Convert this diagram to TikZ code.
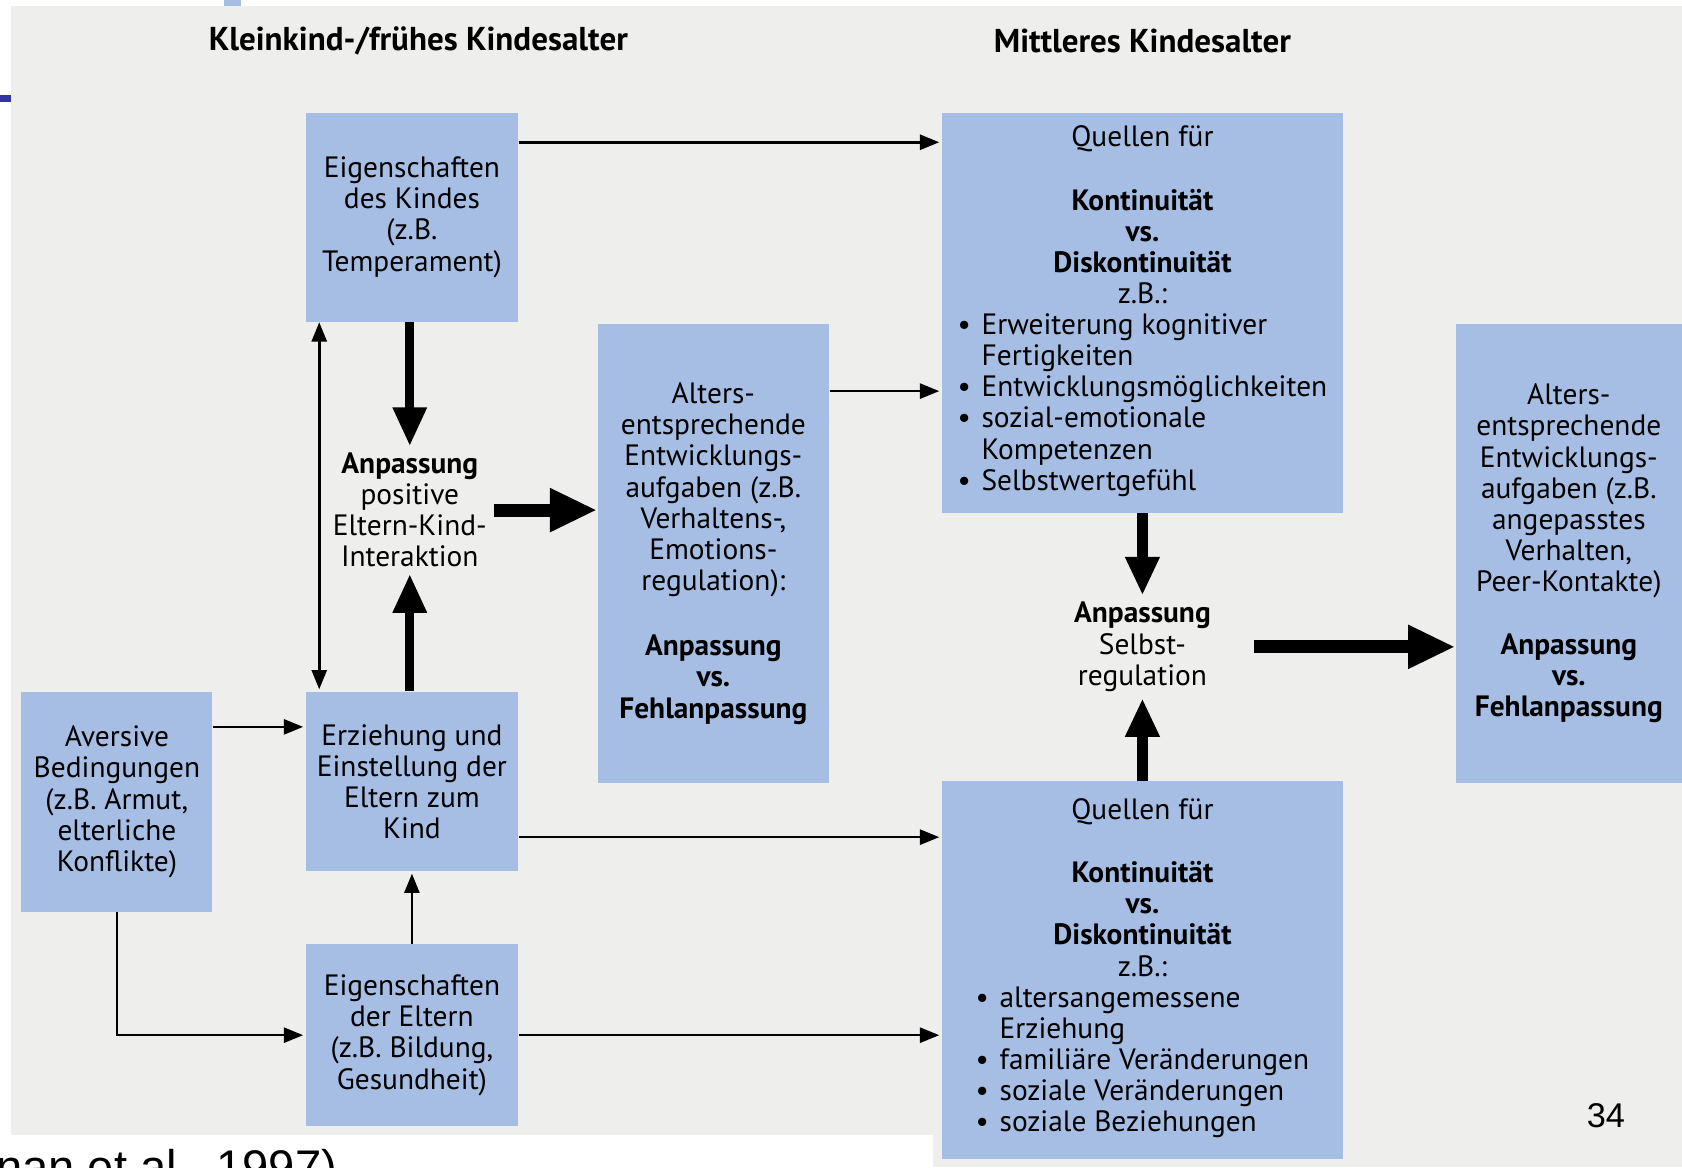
\documentclass[tikz,border=0pt]{standalone}
\usepackage{fontspec}
\setmainfont{PT Sans}
\newfontfamily\arialfont{Liberation Sans}
\usetikzlibrary{arrows.meta,positioning}
\definecolor{boxblau}{RGB}{166,190,228}
\definecolor{papier}{RGB}{238,238,236}
\definecolor{folienblau}{RGB}{51,51,170}
\tikzset{
  kasten/.style={fill=boxblau, inner sep=0pt, align=center, font=\fontsize{13.7}{14.5}\selectfont},
  frei/.style={inner sep=3pt, align=center, font=\fontsize{13.7}{14.5}\selectfont},
  titel/.style={font=\bfseries\fontsize{15.4}{18}\selectfont},
  duenn/.style={line width=1.2pt, -{Triangle[length=9pt,width=7pt]}, shorten >=1pt},
  dickpfeil/.style={line width=4pt, -{Triangle[length=18pt,width=15pt]}},
  breitpfeil/.style={line width=6pt, -{Triangle[length=22pt,width=19pt]}}
}
\begin{document}
\begin{tikzpicture}[x=0.5pt, y=-0.5pt]
\useasboundingbox (0,0) rectangle (1568,1088);
% Seite
\fill[papier] (10,6) rectangle (1568,1058);
\fill[papier] (870,1058) rectangle (1568,1088);
\fill[folienblau] (0,89) rectangle (10,95);
\fill[boxblau] (209,0) rectangle (225,6);

\node[titel] (titelLinks) at (390,38) {Kleinkind-/frühes Kindesalter};
\node[titel] (titelRechts) at (1065,38) {Mittleres Kindesalter};

% Kaesten
\node[kasten, minimum width=99pt, minimum height=97.5pt] (kindA) at (384,202.5)
  {Eigenschaften\\des Kindes\\(z.B.\\Temperament)};
\node[kasten, minimum width=108pt, minimum height=214pt] (altersB) at (665,516)
  {Alters-\\entsprechende\\Entwicklungs-\\aufgaben (z.B.\\Verhaltens-,\\Emotions-\\regulation):\\[16pt]
   \textbf{Anpassung}\\\textbf{vs.}\\\textbf{Fehlanpassung}};
\node[kasten, minimum width=187pt, minimum height=186.5pt] (quelleOben) at (1065,291.5)
  {Quellen für\\[15pt]\textbf{Kontinuität}\\\textbf{vs.}\\\textbf{Diskontinuität}\\z.B.:\\
   \begin{tabular}[t]{@{}l@{\hspace{5pt}}l@{}}
   \textbullet & Erweiterung kognitiver\\ & Fertigkeiten\\
   \textbullet & Entwicklungsmöglichkeiten\\
   \textbullet & sozial-emotionale\\ & Kompetenzen\\
   \textbullet & Selbstwertgefühl
   \end{tabular}};
\node[kasten, minimum width=105.5pt, minimum height=214pt] (altersD) at (1462.5,516)
  {Alters-\\entsprechende\\Entwicklungs-\\aufgaben (z.B.\\angepasstes\\Verhalten,\\Peer-Kontakte)\\[15pt]
   \textbf{Anpassung}\\\textbf{vs.}\\\textbf{Fehlanpassung}};
\node[kasten, minimum width=89pt, minimum height=102.5pt] (aversivE) at (109,747.5)
  {Aversive\\Bedingungen\\(z.B. Armut,\\elterliche\\Konflikte)};
\node[kasten, minimum width=99pt, minimum height=83.5pt] (erziehungF) at (384,728.5)
  {Erziehung und\\Einstellung der\\Eltern zum\\Kind};
\node[kasten, minimum width=99pt, minimum height=85pt] (elternG) at (384,965)
  {Eigenschaften\\der Eltern\\(z.B. Bildung,\\Gesundheit)};
\node[kasten, minimum width=187pt, minimum height=176pt] (quelleUnten) at (1065,904)
  {Quellen für\\[15pt]\textbf{Kontinuität}\\\textbf{vs.}\\\textbf{Diskontinuität}\\z.B.:\\
   \begin{tabular}[t]{@{}l@{\hspace{5pt}}l@{}}
   \textbullet & altersangemessene\\ & Erziehung\\
   \textbullet & familiäre Veränderungen\\
   \textbullet & soziale Veränderungen\\
   \textbullet & soziale Beziehungen
   \end{tabular}};

% freie Texte
\node[frei] (anpassungEins) at (382,475.5) {\textbf{Anpassung}\\positive\\Eltern-Kind-\\Interaktion};
\node[frei] (anpassungZwei) at (1065,603) {\textbf{Anpassung}\\Selbst-\\regulation};

\node[font=\arialfont\fontsize{16}{18}\selectfont] (seite) at (1497,1040) {34};
\node[font=\arialfont\fontsize{22}{24}\selectfont, anchor=base west, inner sep=0pt] (quelle) at (-4,1103) {nan et al., 1997)};

% Pfeile
\coordinate (p1) at ([shift={(0,28)}]kindA.north east);
\draw[duenn] (p1) -- (p1 -| quelleOben.west);
\coordinate (p2) at ([shift={(0,63)}]altersB.north east);
\draw[duenn] (p2) -- (p2 -| quelleOben.west);
\coordinate (p3) at ([shift={(13,0)}]kindA.south west);
\draw[duenn, {Triangle[length=9pt,width=7pt]}-{Triangle[length=9pt,width=7pt]}] (p3) -- (p3 |- erziehungF.north);
\draw[dickpfeil] (kindA.south -| anpassungEins.north) -- (anpassungEins.north);
\draw[dickpfeil] (erziehungF.north -| anpassungEins.south) -- (anpassungEins.south);
\draw[breitpfeil] (anpassungEins.east) -- (anpassungEins.east -| altersB.west);
\coordinate (p7) at ([shift={(0,33)}]aversivE.north east);
\draw[duenn] (p7) -- (p7 -| erziehungF.west);
\draw[duenn] (aversivE.south) |- (elternG.west);
\draw[duenn] (elternG.north) -- (erziehungF.south);
\coordinate (p10) at ([shift={(0,-32)}]erziehungF.south east);
\draw[duenn] (p10) -- (p10 -| quelleUnten.west);
\draw[duenn] (elternG.east) -- (elternG.east -| quelleUnten.west);
\draw[dickpfeil, line width=5pt] (quelleOben.south) -- (anpassungZwei.north);
\draw[dickpfeil, line width=5pt] (quelleUnten.north) -- (anpassungZwei.south);
\draw[breitpfeil, shorten <=17pt] (anpassungZwei.east) -- (anpassungZwei.east -| altersD.west);
\end{tikzpicture}
\end{document}
